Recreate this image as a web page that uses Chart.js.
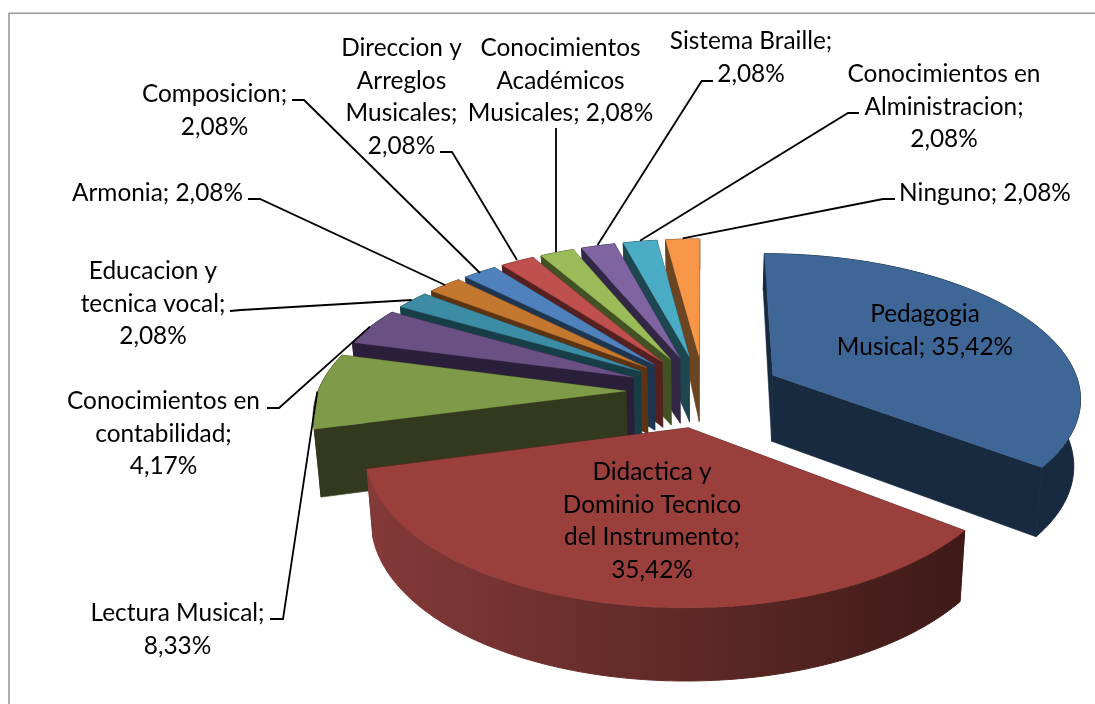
<!DOCTYPE html>
<html>
<head>
<meta charset="utf-8">
<style>html,body{margin:0;padding:0;background:#fff}canvas{display:block}</style>
<script src="https://cdn.jsdelivr.net/npm/chart.js@4"></script>
</head>
<body>
<canvas id="c" width="1095" height="704"></canvas>
<script>
const categories = ["Pedagogia Musical","Didactica y Dominio Tecnico del Instrumento","Lectura Musical","Conocimientos en contabilidad","Educacion y tecnica vocal","Armonia","Composicion","Direccion y Arreglos Musicales","Conocimientos Académicos Musicales","Sistema Braille","Conocimientos en Alministracion","Ninguno"];
const values = [35.42,35.42,8.33,4.17,2.08,2.08,2.08,2.08,2.08,2.08,2.08,2.08];
const topColors = ["#3E6797","#9A3F3C","#7F9A48","#6A5083","#3C8CA6","#C4782F","#4F81BD","#C0504D","#9BBB59","#8064A2","#4BACC6","#F79646"];
const wallColors = ["#172A40","#3E1A16","#33391C","#2A1E3A","#173D47","#5D3413","#1E3550","#542020","#435224","#322744","#1E4650","#6B4422"];
const wallLeftColors = ["#172A40","#843A38","#33391C","#2A1E3A","#173D47","#5D3413","#1E3550","#542020","#435224","#322744","#1E4650","#6B4422"];
const labelLines = [
  ["Pedagogia","Musical; 35,42%"],
  ["Didactica y","Dominio Tecnico","del Instrumento;","35,42%"],
  ["Lectura Musical;","8,33%"],
  ["Conocimientos en","contabilidad;","4,17%"],
  ["Educacion y","tecnica vocal;","2,08%"],
  ["Armonia; 2,08%"],
  ["Composicion;","2,08%"],
  ["Direccion y","Arreglos","Musicales;","2,08%"],
  ["Conocimientos","Académicos","Musicales; 2,08%"],
  ["Sistema Braille;","2,08%"],
  ["Conocimientos en","Alministracion;","2,08%"],
  ["Ninguno; 2,08%"]
];
const labelAnchors = [[925,314],[652,472],[177.5,613],[163.5,401],[153,271],[157.5,193],[214.5,94],[401.5,48],[560.5,48],[751,41],[944,74],[985,193]];
const leaderPaths = [
  null,null,
  [[270,619],[283,619],[317.3,391.7]],
  [[267,408],[279,408],[370,326.7]],
  [[230,311],[241,310],[411.7,300]],
  [[248,199],[260,199],[445,285]],
  [[292,100],[304,100],[480,273]],
  [[440,152],[452,152],[517,260]],
  [[556,128],[556,252]],
  [[713,81],[701.7,81],[597.6,245]],
  [[859,113],[848,113],[640,240.7]],
  [[895,199],[883,199],[682.7,238.3]]
];
const drawOrder = [11,10,9,8,7,6,5,4,3,2,0,1];

const VIEW = {cx:704, cy:391, rx:308, ry:143, k:0.142, explode:0.253, converge:0.018};
const LINE_H = 32.7;
const FONT = '24.4px Lato';

function project(u,v){
  const w = 1/(1+VIEW.k*v);
  return [VIEW.cx+VIEW.rx*u*w, VIEW.cy-VIEW.ry*v*w];
}
function depthAt(v){
  if (v>0.5) return Math.max(30, 64-(v-0.5)*45);
  return 64+(0.5-v)*5.2;
}
function lower(u,v){
  const p = project(u,v);
  return [VIEW.cx+(p[0]-VIEW.cx)*(1-VIEW.converge), p[1]+depthAt(v)];
}
function poly(ctx,pts,fill,edge){
  ctx.beginPath();
  pts.forEach((p,i)=> i?ctx.lineTo(p[0],p[1]):ctx.moveTo(p[0],p[1]));
  ctx.closePath();
  ctx.fillStyle = fill;
  ctx.strokeStyle = fill;
  ctx.lineWidth = edge;
  ctx.fill();
  ctx.stroke();
}
const pie3d = {
  id:'pie3d',
  beforeDatasetsDraw(chart){
    const ctx = chart.ctx;
    const arcs = chart.getDatasetMeta(0).data;
    ctx.save();
    drawOrder.forEach(i=>{
      const {startAngle:a0,endAngle:a1} = arcs[i].getProps(['startAngle','endAngle'],true);
      const mid=(a0+a1)/2;
      const tu=Math.cos(mid)*VIEW.explode, tv=-Math.sin(mid)*VIEW.explode;
      const n=Math.max(2,Math.ceil((a1-a0)/0.02));
      const rim=[];
      for(let s=0;s<=n;s++){
        const a=a0+(a1-a0)*s/n;
        rim.push([tu+Math.cos(a),tv-Math.sin(a)]);
      }
      const topRim=rim.map(r=>project(r[0],r[1]));
      const lowRim=rim.map(r=>lower(r[0],r[1]));
      const tipTop=project(tu,tv), tipLow=lower(tu,tv);
      poly(ctx,[tipTop,topRim[0],lowRim[0],tipLow],wallColors[i],0.6);
      poly(ctx,[tipTop,topRim[n],lowRim[n],tipLow],wallColors[i],0.6);
      const g=ctx.createLinearGradient(366,0,966,0);
      g.addColorStop(0,wallLeftColors[i]);
      g.addColorStop(1,wallColors[i]);
      poly(ctx,topRim.concat(lowRim.slice().reverse()),g,1);
      poly(ctx,[tipTop].concat(topRim),topColors[i],0.3);
    });
    ctx.restore();
    return false;
  },
  afterDraw(chart){
    const ctx=chart.ctx;
    ctx.save();
    ctx.strokeStyle='#9A9A9A';
    ctx.lineWidth=1.6;
    ctx.beginPath();
    ctx.moveTo(9,710);ctx.lineTo(9,13.3);ctx.lineTo(1100,13.3);
    ctx.stroke();
    ctx.strokeStyle='#000';
    ctx.lineWidth=1.8;
    leaderPaths.forEach(path=>{
      if(!path)return;
      ctx.beginPath();
      path.forEach((p,i)=> i?ctx.lineTo(p[0],p[1]):ctx.moveTo(p[0],p[1]));
      ctx.stroke();
    });
    ctx.fillStyle='#000';
    ctx.font=FONT;
    ctx.textAlign='center';
    ctx.textBaseline='middle';
    labelLines.forEach((lines,i)=>{
      lines.forEach((t,j)=>ctx.fillText(t,labelAnchors[i][0],labelAnchors[i][1]+j*LINE_H));
    });
    ctx.restore();
  }
};
new Chart(document.getElementById('c'),{
  type:'pie',
  data:{labels:categories,datasets:[{data:values,backgroundColor:topColors,borderWidth:0}]},
  options:{responsive:false,animation:false,plugins:{legend:{display:false},tooltip:{enabled:false}}},
  plugins:[pie3d]
});
</script>
</body>
</html>
